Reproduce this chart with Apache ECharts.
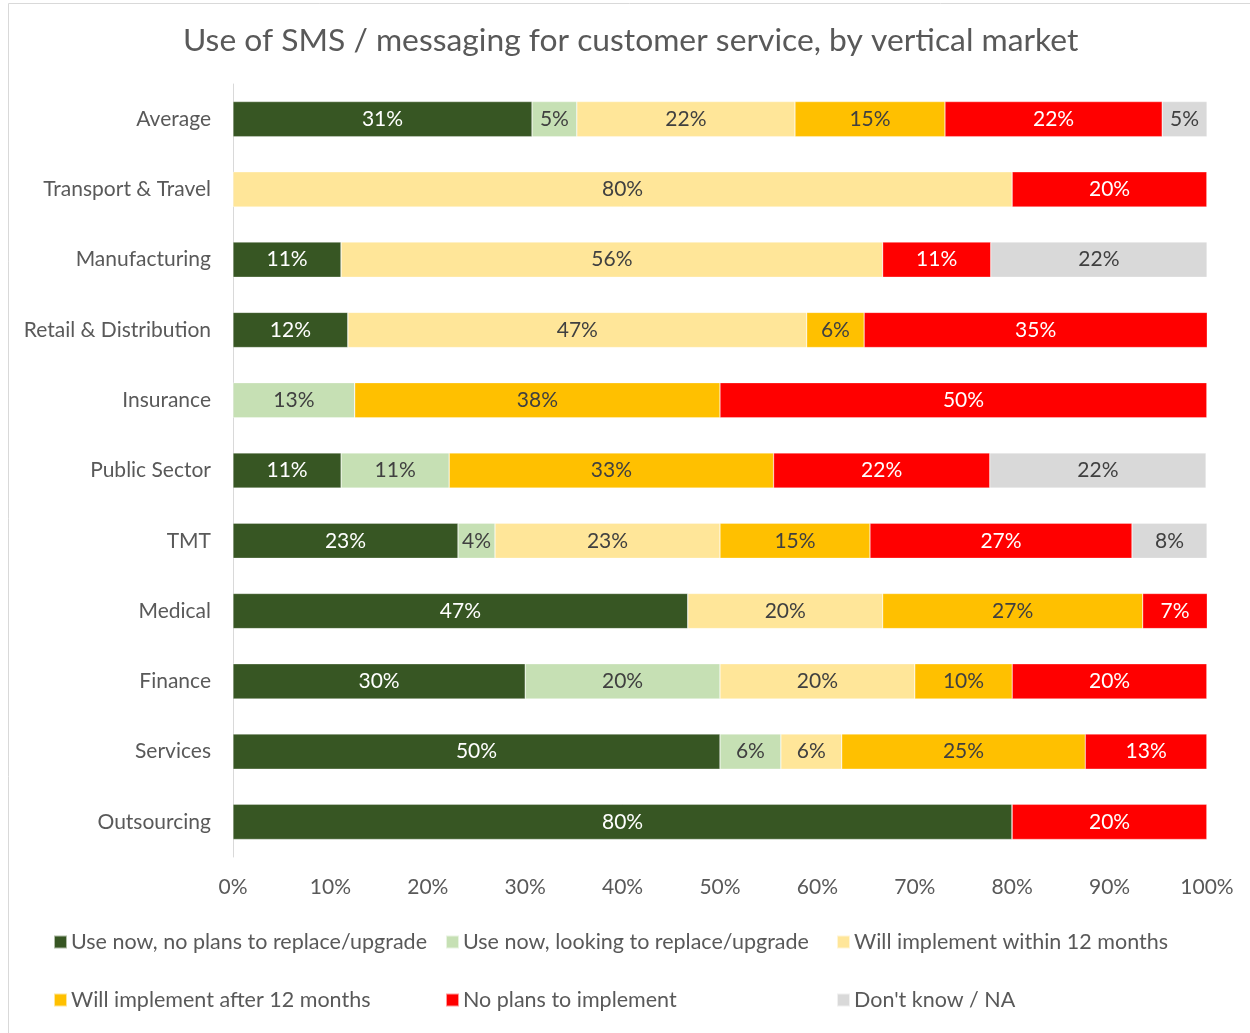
<!DOCTYPE html>
<html>
<head>
<meta charset="utf-8">
<script src="https://cdn.jsdelivr.net/npm/echarts@6/dist/echarts.min.js"></script>
<style>
  html, body { margin: 0; padding: 0; background: #fff; }
  #chart { width: 1250px; height: 1033px; }
</style>
</head>
<body>
<div id="chart"></div>
<script>
// categories, top to bottom
var categories = ['Average', 'Transport & Travel', 'Manufacturing', 'Retail & Distribution',
    'Insurance', 'Public Sector', 'TMT', 'Medical', 'Finance', 'Services', 'Outsourcing'];

var seriesNames = ['Use now, no plans to replace/upgrade', 'Use now, looking to replace/upgrade',
    'Will implement within 12 months', 'Will implement after 12 months',
    'No plans to implement', "Don't know / NA"];

// share of respondents, %
var useNow    = [30.7, 0, 11.1, 11.8, 0, 11.1, 23.1, 46.7, 30, 50, 80];
var looking   = [4.6, 0, 0, 0, 12.5, 11.1, 3.8, 0, 20, 6.25, 0];
var within12  = [22.4, 80, 55.6, 47.1, 0, 0, 23.1, 20, 20, 6.25, 0];
var after12   = [15.4, 0, 0, 5.9, 37.5, 33.3, 15.4, 26.7, 10, 25, 0];
var noPlans   = [22.3, 20, 11.1, 35.3, 50, 22.2, 26.9, 6.7, 20, 12.5, 20];
var dontKnow  = [4.6, 0, 22.2, 0, 0, 22.2, 7.7, 0, 0, 0, 0];

var values = [useNow, looking, within12, after12, noPlans, dontKnow];
var colors = ['#375623', '#C6E0B4', '#FFE699', '#FFC000', '#FF0000', '#D9D9D9'];
var labelColors = ['#fff', '#404040', '#404040', '#404040', '#fff', '#404040'];

var font = 'Lato';
var chart = echarts.init(document.getElementById('chart'));

var series = values.map(function (v, i) {
    return {
        name: seriesNames[i],
        type: 'bar',
        stack: 'total',
        barCategoryGap: '50%',
        data: v,
        itemStyle: { color: colors[i], borderColor: 'rgba(255,255,255,0.6)', borderWidth: 0.5 },
        label: {
            show: true,
            position: 'inside',
            color: labelColors[i],
            fontFamily: font,
            fontSize: 21,
            formatter: function (p) {
                return p.value ? Math.round(p.value) + '%' : '';
            }
        }
    };
});

// one legend per item so the columns line up like the original
var legendX = [53, 445, 836];
var legendY = [931, 989];
var legends = seriesNames.map(function (n, i) {
    return {
        data: [n],
        left: legendX[i % 3],
        top: legendY[Math.floor(i / 3)],
        padding: 0,
        itemWidth: 13,
        itemHeight: 13,
        itemGap: 0,
        icon: 'rect',
        selectedMode: false,
        textStyle: { color: '#595959', fontFamily: font, fontSize: 21.5, padding: [0, 0, 0, -1] }
    };
});

chart.setOption({
    animation: false,
    color: colors,
    title: {
        text: 'Use of SMS / messaging for customer service, by vertical market',
        left: 178,
        top: 20,
        textStyle: { color: '#595959', fontFamily: font, fontSize: 31.8, fontWeight: 'normal' }
    },
    legend: legends,
    grid: { left: 233, right: 43, top: 84, bottom: 176 },
    xAxis: {
        type: 'value',
        min: 0,
        max: 100,
        interval: 10,
        axisLine: { show: false },
        axisTick: { show: false },
        splitLine: { show: false },
        axisLabel: { formatter: '{value}%', color: '#595959', fontFamily: font, fontSize: 21, margin: 20 }
    },
    yAxis: {
        type: 'category',
        inverse: true,
        data: categories,
        axisLine: { show: true, lineStyle: { color: '#D9D9D9' } },
        axisTick: { show: false },
        axisLabel: { color: '#595959', fontFamily: font, fontSize: 21, margin: 22 }
    },
    graphic: [{
        type: 'rect',
        shape: { x: 8.5, y: 3.5, width: 1300, height: 1100 },
        style: { fill: 'none', stroke: '#D9D9D9', lineWidth: 1 },
        silent: true
    }],
    series: series
});
</script>
</body>
</html>
